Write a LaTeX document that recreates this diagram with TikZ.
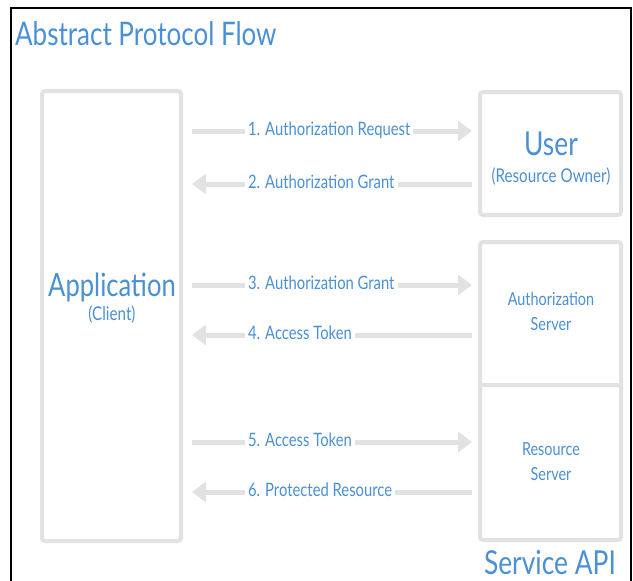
\documentclass[tikz,border=0pt]{standalone}
\usepackage{fontspec}
\setmainfont[FakeStretch=0.8]{Lato}
\usetikzlibrary{arrows.meta}
\definecolor{txtblue}{RGB}{74,144,212}
\definecolor{boxgray}{RGB}{226,226,226}
\tikzset{
  x=1pt, y=-1pt,
  box/.style={draw=boxgray, line width=4pt, rounded corners=3pt, fill=white, inner sep=0pt},
  txt/.style={text=txtblue, inner sep=0pt},
  flow/.style={draw=boxgray, line width=5pt, -{Triangle[length=14pt,width=20pt]}},
  lbl/.style={text=txtblue, fill=white, inner sep=0pt, outer sep=0pt, font=\fontsize{18.5}{20}\selectfont},
}
\begin{document}
\begin{tikzpicture}
\useasboundingbox (0,0) rectangle (633,581);
% outer frame
\draw[line width=2pt] (11,581) -- (11,8) -- (631,8) -- (631,581);
\node[txt, anchor=base west, font=\fontsize{32.5}{38}\selectfont] (title) at (15,45) {Abstract Protocol Flow};
% boxes
\node[box, minimum width=139pt, minimum height=450pt] (app) at (111.5,316) {};
\node[box, minimum width=141pt, minimum height=123pt] (user) at (550.5,153.5) {};
\node[box, minimum width=141pt, minimum height=298pt] (api) at (550.5,391) {};
\draw[boxgray, line width=4pt] (api.west |- 0,385) coordinate (dl) -- (api.east |- 0,385) coordinate (dr);
% texts
\node[txt, anchor=base, font=\fontsize{32}{36}\selectfont] (apptxt) at (112,296) {Application};
\node[txt, anchor=base, font=\fontsize{19}{20}\selectfont] (clienttxt) at (112,320) {(Client)};
\node[txt, anchor=base, font=\fontsize{33}{36}\selectfont] (usertxt) at (551,155) {User};
\node[txt, anchor=base, font=\fontsize{19}{20}\selectfont] (ownertxt) at (551,182) {(Resource Owner)};
\node[txt, anchor=base, font=\fontsize{18}{20}\selectfont] (auth1) at (551,305) {Authorization};
\node[txt, anchor=base, font=\fontsize{18}{20}\selectfont] (auth2) at (551,330) {Server};
\node[txt, anchor=base, font=\fontsize{18}{20}\selectfont] (res1) at (551,455) {Resource};
\node[txt, anchor=base, font=\fontsize{18}{20}\selectfont] (res2) at (551,480) {Server};
\node[txt, anchor=base, font=\fontsize{33}{40}\selectfont] (svc) at (550,574) {Service API};
% arrows
\draw[flow] ([xshift=9pt]app.east |- 0,131) -- ([xshift=-6pt]user.west |- 0,131);
\draw[flow] ([xshift=-6pt]user.west |- 0,184) -- ([xshift=9pt]app.east |- 0,184);
\draw[flow] ([xshift=9pt]app.east |- 0,285) -- ([xshift=-6pt]api.west |- 0,285);
\draw[flow] ([xshift=-6pt]api.west |- 0,335) -- ([xshift=9pt]app.east |- 0,335);
\draw[flow] ([xshift=9pt]app.east |- 0,442) -- ([xshift=-6pt]api.west |- 0,442);
\draw[flow] ([xshift=-6pt]api.west |- 0,492) -- ([xshift=9pt]app.east |- 0,492);
% labels
\node[lbl, anchor=west] (l1) at (245,131) {\strut\,1. Authorization Request\,};
\node[lbl, anchor=west] (l2) at (245,184) {\strut\,2. Authorization Grant\,};
\node[lbl, anchor=west] (l3) at (245,285) {\strut\,3. Authorization Grant\,};
\node[lbl, anchor=west] (l4) at (245,335) {\strut\,4. Access Token\,};
\node[lbl, anchor=west] (l5) at (245,442) {\strut\,5. Access Token\,};
\node[lbl, anchor=west] (l6) at (245,492) {\strut\,6. Protected Resource\,};
\end{tikzpicture}
\end{document}
